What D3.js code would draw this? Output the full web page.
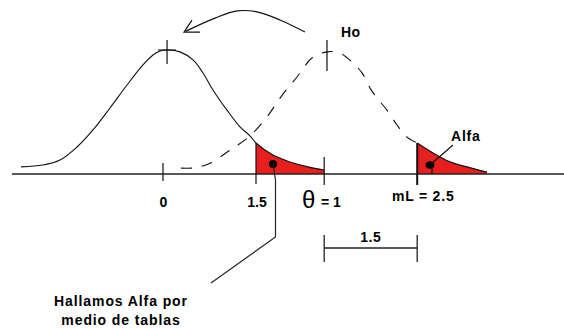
<!DOCTYPE html>
<html>
<head>
<meta charset="utf-8">
<script src="https://cdn.jsdelivr.net/npm/d3@7"></script>
<style>
  html, body { margin: 0; padding: 0; background: #fff; }
  svg { display: block; }
  text { font-family: "Liberation Sans", Arial, sans-serif; font-weight: bold; fill: #000; }
</style>
</head>
<body>
<svg id="chart" width="564" height="328"></svg>
<script>
// Null distribution (solid) : [position, relative height]
const nullCurve = [
  [-2.29, 0.023], [-1.935, 0.029], [-1.661, 0.045], [-1.387, 0.087], [-1.129, 0.142],
  [-0.855, 0.213], [-0.581, 0.287], [-0.323, 0.352], [-0.161, 0.384], [-0.048, 0.397],
  [0.081, 0.400], [0.274, 0.394], [0.484, 0.368], [0.645, 0.326], [0.806, 0.271],
  [1.032, 0.206], [1.242, 0.152], [1.403, 0.123], [1.50, 0.100], [1.774, 0.061],
  [2.048, 0.039], [2.339, 0.023], [2.60, 0.013]
];
// Ho distribution (dashed)
const hoCurve = [
  [0.29, 0.019], [0.516, 0.020], [0.758, 0.035], [1.081, 0.077], [1.403, 0.123],
  [1.677, 0.184], [1.887, 0.245], [2.161, 0.313], [2.403, 0.374], [2.645, 0.394],
  [2.855, 0.390], [3.065, 0.358], [3.21, 0.326], [3.339, 0.277], [3.452, 0.245],
  [3.613, 0.206], [3.774, 0.158], [3.935, 0.119], [4.10, 0.100], [4.355, 0.068],
  [4.629, 0.039], [4.903, 0.023], [5.226, 0.006]
];
// Shaded tails [from, to]
const nullTail = [1.5, 2.6];
const hoTail = [4.1, 5.226];
// Peak markers
const peaks = [0.065, 2.645];
// Axis ticks
const tickValues = [0, 1.5, 2.6, 4.1];
const tickLabels = ["0", "1.5", "= 1", "mL = 2.5"];
// Distance between θ and mL
const gapStart = 2.6;
const gapLength = 1.5;
const gapLabel = "1.5";
// Shift arrow
const arrowPath = [[2.29, 0.458], [1.887, 0.497], [1.516, 0.523], [1.194, 0.526], [0.839, 0.503], [0.371, 0.461]];

const svg = d3.select("#chart");
const x = d3.scaleLinear().domain([-2.5, 6.5]).range([8, 566]);
const y = d3.scaleLinear().domain([0, 0.4]).range([174, 50]);

const line = d3.line().x(d => x(d[0])).y(d => y(d[1])).curve(d3.curveCatmullRom.alpha(0.5));
const area = d3.area().x(d => x(d[0])).y0(y(0)).y1(d => y(d[1])).curve(d3.curveCatmullRom.alpha(0.5));

// red tails
function tail(curve, r) { return curve.filter(d => d[0] >= r[0] - 1e-9 && d[0] <= r[1] + 1e-9); }
svg.append("path").attr("d", area(tail(nullCurve, nullTail))).attr("fill", "#e81f1f");
svg.append("path").attr("d", area(tail(hoCurve, hoTail))).attr("fill", "#e81f1f");

// curves
svg.append("path").attr("d", line(nullCurve)).attr("fill", "none").attr("stroke", "#111").attr("stroke-width", 1.1);
svg.append("path").attr("d", line(hoCurve.filter(d => d[0] <= hoTail[0] + 1e-9)))
  .attr("fill", "none").attr("stroke", "#111").attr("stroke-width", 1.1)
  .attr("stroke-dasharray", "11,10");
// solid outline along the top of the Ho tail
svg.append("path").attr("d", line(tail(hoCurve, hoTail))).attr("fill", "none").attr("stroke", "#111").attr("stroke-width", 1.2);

// baseline axis
svg.append("line").attr("x1", 12).attr("x2", 564).attr("y1", y(0)).attr("y2", y(0))
  .attr("stroke", "#222").attr("stroke-width", 1.5);

// axis ticks
const tickExt = [[163, 181], [143, 184], [157, 185], [143, 185]];
tickValues.forEach((v, i) => {
  svg.append("line").attr("x1", x(v)).attr("x2", x(v)).attr("y1", tickExt[i][0]).attr("y2", tickExt[i][1])
    .attr("stroke", "#111").attr("stroke-width", i === 3 ? 2 : 1.2);
});

// peak markers
const peakExt = [[40, 64], [40, 71]];
peaks.forEach((p, i) => {
  svg.append("line").attr("x1", x(p)).attr("x2", x(p)).attr("y1", peakExt[i][0]).attr("y2", peakExt[i][1])
    .attr("stroke", "#111").attr("stroke-width", 1.2);
});
// crossbar on the left peak
svg.append("line").attr("x1", x(peaks[0]) - 9).attr("x2", x(peaks[0]) + 9).attr("y1", 50).attr("y2", 50)
  .attr("stroke", "#111").attr("stroke-width", 1.1);

// tick labels
svg.append("text").attr("x", x(tickValues[0]) + 0.5).attr("y", 207).attr("text-anchor", "middle")
  .attr("font-size", 14).text(tickLabels[0]);
svg.append("text").attr("x", x(tickValues[1]) + 1).attr("y", 207).attr("text-anchor", "middle")
  .attr("font-size", 14).text(tickLabels[1]);
svg.append("text").attr("x", 302).attr("y", 208).attr("font-size", 24)
  .style("font-weight", "normal").text("θ");
svg.append("text").attr("x", 321).attr("y", 207).attr("font-size", 14).text(tickLabels[2]);
svg.append("text").attr("x", x(tickValues[3]) + 6).attr("y", 201).attr("text-anchor", "middle")
  .attr("font-size", 14).attr("letter-spacing", 0.8).text(tickLabels[3]);

// distance bar
const gx1 = x(gapStart), gx2 = x(gapStart + gapLength);
svg.append("line").attr("x1", gx1).attr("x2", gx2).attr("y1", 248).attr("y2", 248).attr("stroke", "#222").attr("stroke-width", 1.3);
[gx1, gx2].forEach(gx => svg.append("line").attr("x1", gx).attr("x2", gx).attr("y1", 235).attr("y2", 262)
  .attr("stroke", "#222").attr("stroke-width", 1.3));
svg.append("text").attr("x", (gx1 + gx2) / 2).attr("y", 242).attr("text-anchor", "middle")
  .attr("font-size", 14).attr("letter-spacing", 0.5).text(gapLabel);

// dots and leaders
svg.append("circle").attr("cx", 273).attr("cy", 164).attr("r", 4).attr("fill", "#000");
svg.append("polyline").attr("points", "273,164 275.5,180 275.5,237 211,283")
  .attr("fill", "none").attr("stroke", "#222").attr("stroke-width", 1.2);
svg.append("ellipse").attr("cx", 430).attr("cy", 165).attr("rx", 4.5).attr("ry", 3.8).attr("fill", "#000");
svg.append("line").attr("x1", 432).attr("x2", 432).attr("y1", 165).attr("y2", 174).attr("stroke", "#111").attr("stroke-width", 1.2);
svg.append("line").attr("x1", 430).attr("x2", 453).attr("y1", 165).attr("y2", 145).attr("stroke", "#111").attr("stroke-width", 1.2);

// labels
svg.append("text").attr("x", 341).attr("y", 37).attr("font-size", 14).attr("letter-spacing", 0.3).text("Ho");
svg.append("text").attr("x", 451).attr("y", 141).attr("font-size", 14).attr("letter-spacing", 0.8).text("Alfa");
svg.append("text").attr("x", 121).attr("y", 306).attr("text-anchor", "middle").attr("font-size", 14)
  .attr("letter-spacing", 0.9).text("Hallamos Alfa por");
svg.append("text").attr("x", 121).attr("y", 325).attr("text-anchor", "middle").attr("font-size", 14)
  .attr("letter-spacing", 0.9).text("medio de tablas");

// arrow
svg.append("path").attr("d", line(arrowPath)).attr("fill", "none").attr("stroke", "#111").attr("stroke-width", 1.2);
const tip = [x(arrowPath[arrowPath.length - 1][0]) - 2, y(arrowPath[arrowPath.length - 1][1]) + 1];
svg.append("polyline").attr("points", `${tip[0] + 8},${tip[1] - 12} ${tip[0]},${tip[1]} ${tip[0] + 16},${tip[1]}`)
  .attr("fill", "none").attr("stroke", "#111").attr("stroke-width", 1.2);
</script>
</body>
</html>
